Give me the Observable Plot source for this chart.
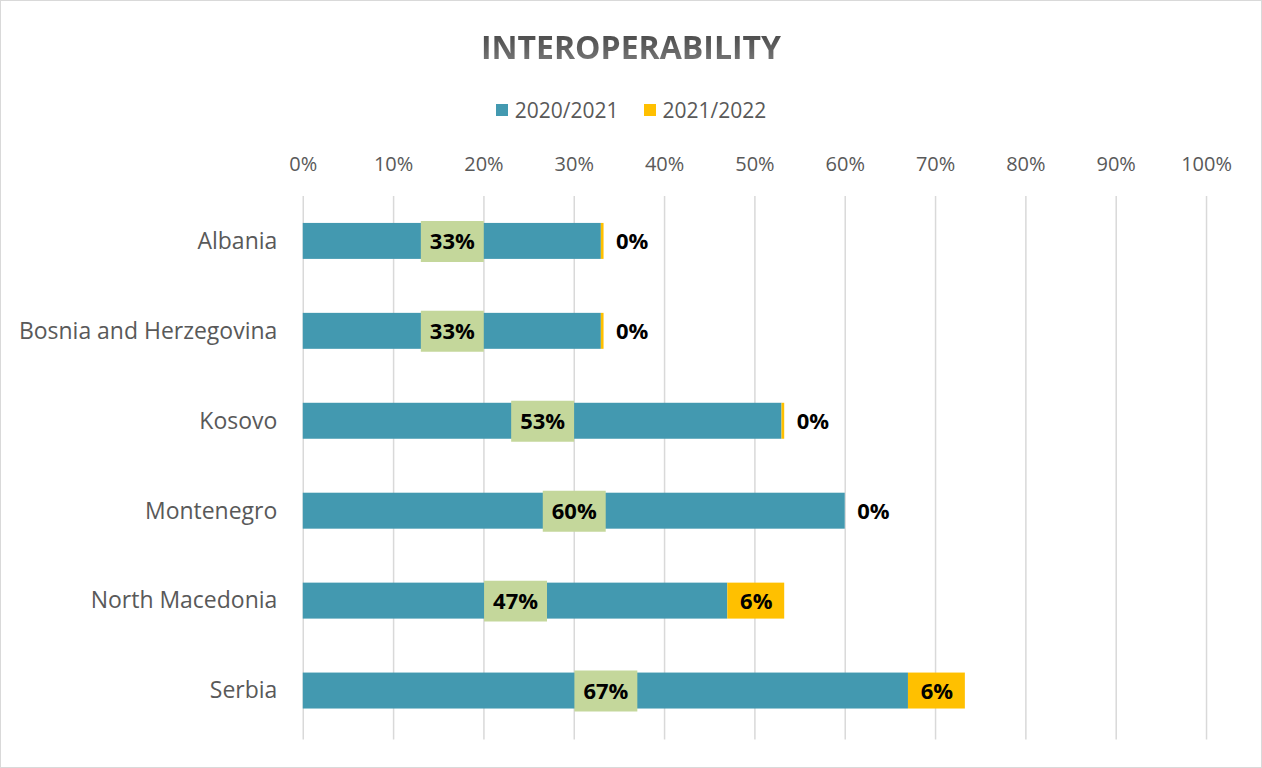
<!DOCTYPE html>
<html>
<head>
<meta charset="utf-8">
<script src="https://cdn.jsdelivr.net/npm/d3@7"></script>
<script src="https://cdn.jsdelivr.net/npm/@observablehq/plot@0.6"></script>
<style>
  html, body { margin: 0; padding: 0; background: #fff; }
  #wrap { position: relative; width: 1262px; height: 768px; box-sizing: border-box; border: 1px solid #d9d9d9; overflow: hidden; font-family: "Open Sans", sans-serif; }
  #title { position: absolute; left: 0; right: 0; top: 25px; height: 42px; line-height: 42px; text-align: center; font-size: 32px; font-weight: 700; color: #595959;
    background: linear-gradient(#3f3f3f, #808080); -webkit-background-clip: text; background-clip: text; -webkit-text-fill-color: transparent; }
  #legend { position: absolute; left: 0; right: 0; top: 95px; height: 28px; display: flex; justify-content: center; align-items: center; gap: 25px; font-size: 21px; color: #595959; }
  .item { display: flex; align-items: center; gap: 7px; }
  .sw { width: 12px; height: 12px; display: inline-block; }
  #chart { position: absolute; left: -1px; top: 129px; }
</style>
</head>
<body>
<div id="wrap">
  <div id="title">INTEROPERABILITY</div>
  <div id="legend"></div>
  <div id="chart"></div>
</div>
<script>
const countries = ["Albania", "Bosnia and Herzegovina", "Kosovo", "Montenegro", "North Macedonia", "Serbia"];
const series = ["2020/2021", "2021/2022"];
const values2020 = [33, 33, 53, 60, 47, 67];
const values2021 = [0.3, 0.3, 0.3, 0, 6.3, 6.3];
const labels2020 = ["33%", "33%", "53%", "60%", "47%", "67%"];
const labels2021 = ["0%", "0%", "0%", "0%", "6%", "6%"];
const xTicks = [0, 10, 20, 30, 40, 50, 60, 70, 80, 90, 100];
const colors = ["#4399b0", "#ffc000"];

const rows = countries.map((c, i) => ({
  country: c, a: values2020[i], b: values2021[i], la: labels2020[i], lb: labels2021[i]
}));

// legend
const legend = document.getElementById("legend");
series.forEach((s, i) => {
  const it = document.createElement("div");
  it.className = "item";
  it.innerHTML = `<span class="sw" style="background:${colors[i]}"></span><span>${s}</span>`;
  legend.appendChild(it);
});

const boxSymbol = { draw(ctx) { ctx.rect(-31.5, -20.5, 63, 41); } };

const chart = Plot.plot({
  width: 1262,
  height: 634,
  marginLeft: 303,
  marginRight: 55,
  marginTop: 66,
  marginBottom: 27,
  style: { fontFamily: "'Open Sans', sans-serif", fontSize: "20px", color: "#595959", background: "transparent" },
  x: { domain: [0, 100], ticks: xTicks, tickFormat: d => d + "%", axis: "top", tickSize: 0, tickPadding: 25, label: null },
  y: { domain: countries, paddingInner: 0.6, paddingOuter: 0.3, axis: null },
  marks: [
    Plot.ruleX(xTicks, { x: d => d, stroke: "#d9d9d9", strokeWidth: 1.5, strokeOpacity: 1, insetBottom: -3 }),
    Plot.axisY({ tickSize: 0, tickPadding: 26, label: null, fontSize: 23 }),
    Plot.barX(rows, { y: "country", x1: 0, x2: "a", fill: colors[0] }),
    Plot.barX(rows, { y: "country", x1: "a", x2: d => d.a + d.b, fill: colors[1] }),
    Plot.dot(rows, { y: "country", x: d => d.a / 2, symbol: boxSymbol, fill: "#c4d79b", stroke: null, r: 10 }),
    Plot.text(rows, { y: "country", x: d => d.a / 2, text: "la", fontWeight: 700, fontSize: 22, fill: "#000", dy: 1 }),
    Plot.text(rows.filter(d => d.b >= 1), { y: "country", x: d => d.a + d.b / 2, text: "lb", fontWeight: 700, fontSize: 22, fill: "#000", dy: 1 }),
    Plot.text(rows.filter(d => d.b < 1), { y: "country", x: d => d.a + d.b, text: "lb", textAnchor: "start", dx: 12, fontWeight: 700, fontSize: 22, fill: "#000", dy: 1 })
  ]
});
document.getElementById("chart").appendChild(chart);
</script>
</body>
</html>
